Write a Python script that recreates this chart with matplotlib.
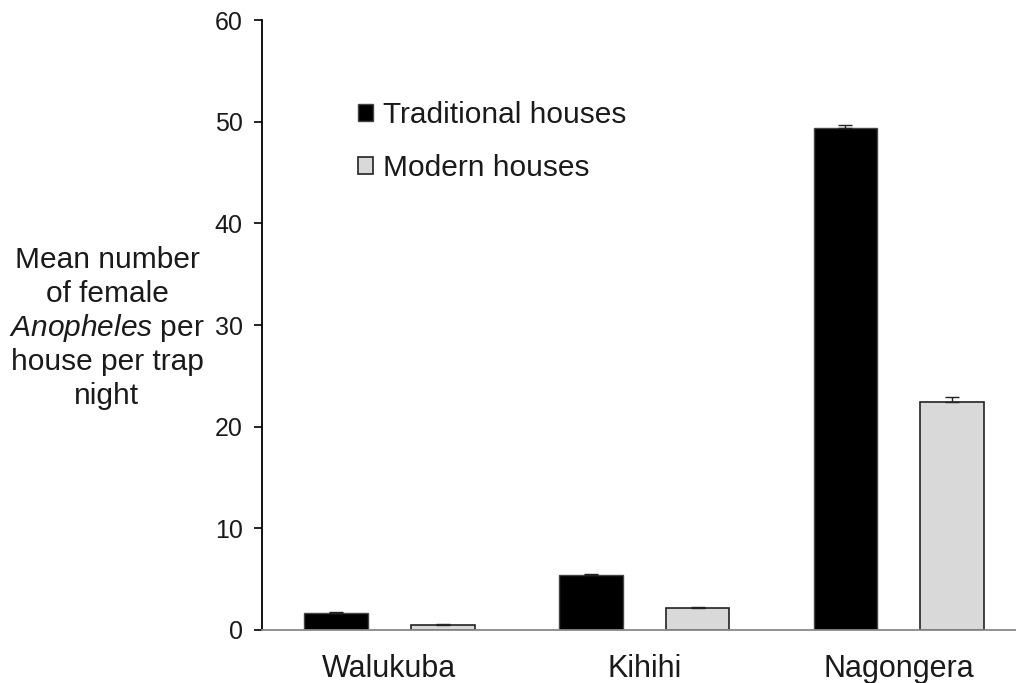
import matplotlib
matplotlib.use("Agg")
import matplotlib.pyplot as plt
import numpy as np

# ---------------------------------------------------------------------------
# Data
# ---------------------------------------------------------------------------

SITES = ["Walukuba", "Kihihi", "Nagongera"]
TRADITIONAL = [1.7, 5.45, 49.4]
MODERN = [0.52, 2.15, 22.45]
TRAD_ERR = [0.05, 0.1, 0.3]
MOD_ERR = [0.05, 0.1, 0.45]

SERIES_LABELS = ["Traditional houses", "Modern houses"]
Y_TICKS = [0, 10, 20, 30, 40, 50, 60]

# ---------------------------------------------------------------------------
# Style
# ---------------------------------------------------------------------------

plt.rcParams["font.family"] = ["Liberation Sans", "DejaVu Sans"]
plt.rcParams["mathtext.fontset"] = "custom"
plt.rcParams["mathtext.it"] = "Liberation Sans:italic"
plt.rcParams["mathtext.rm"] = "Liberation Sans"

TEXT_COLOR = "#1a1a1a"

fig = plt.figure(figsize=(10.16, 6.83), dpi=100)
ax = fig.add_axes([0.258, 0.0776, 0.742, 0.8931])

x = np.arange(len(SITES))
width = 0.25
offset = 0.21

ax.bar(x - offset, TRADITIONAL, width, color="black", edgecolor="#444444",
       linewidth=1.0, label=SERIES_LABELS[0], zorder=2)
ax.bar(x + offset, MODERN, width, color="#d9d9d9", edgecolor="#222222",
       linewidth=1.2, label=SERIES_LABELS[1], zorder=2)

# Excel-style "plus" error bars only
ax.errorbar(x - offset, TRADITIONAL, yerr=[np.zeros(3), TRAD_ERR], fmt="none",
            ecolor="#222222", elinewidth=1.0, capsize=5, capthick=1.0, zorder=3)
ax.errorbar(x + offset, MODERN, yerr=[np.zeros(3), MOD_ERR], fmt="none",
            ecolor="#222222", elinewidth=1.0, capsize=5, capthick=1.0, zorder=3)

ax.set_xlim(-0.5, 2.46)
ax.set_ylim(0, 60)
ax.set_yticks(Y_TICKS)
ax.set_xticks(x)
ax.set_xticklabels(SITES, fontsize=22, color=TEXT_COLOR)
ax.tick_params(axis="x", length=0, pad=17)
ax.tick_params(axis="y", direction="out", length=6, width=1.2, labelsize=18,
               pad=8, labelcolor=TEXT_COLOR)

for side in ["top", "right"]:
    ax.spines[side].set_visible(False)
ax.spines["left"].set_linewidth(1.3)
ax.spines["bottom"].set_color("#888888")
ax.spines["bottom"].set_linewidth(1.3)

# Y label, drawn line by line so the genus name can be italic
ylabel_lines = ["Mean number", "of female", r"$\mathit{Anopheles}$ per",
                "house per trap", "night"]
for i, line in enumerate(ylabel_lines):
    fig.text(107 / 1016, 1 - (260 + 34 * i) / 683, line, fontsize=21.5,
             ha="center", va="center", color=TEXT_COLOR)

leg = ax.legend(loc="upper left", bbox_to_anchor=(358 / 1016, 1 - 101 / 683),
                bbox_transform=fig.transFigure, frameon=False, fontsize=21.5,
                handlelength=0.5, handleheight=0.5, handletextpad=0.35,
                labelspacing=0.85, borderpad=0, borderaxespad=0)
for t in leg.get_texts():
    t.set_color(TEXT_COLOR)

fig.savefig("out.png", dpi=100, facecolor="white")
